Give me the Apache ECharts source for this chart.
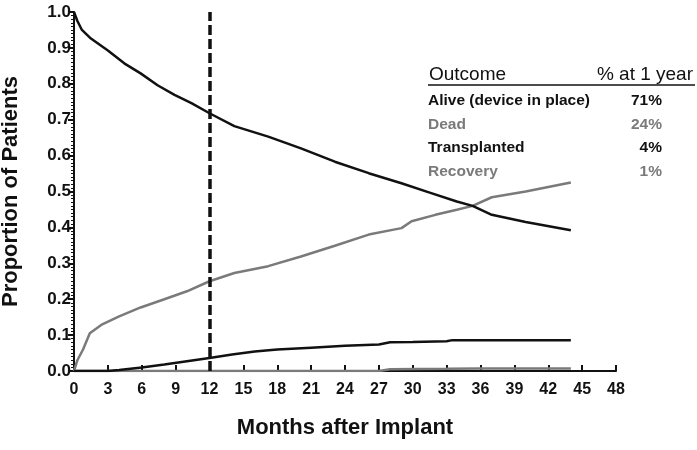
<!DOCTYPE html>
<html><head><meta charset="utf-8">
<script src="https://cdn.jsdelivr.net/npm/echarts@6/dist/echarts.min.js"></script>
<style>html,body{margin:0;padding:0;background:#fff}#c{width:697px;height:450px}</style>
</head><body><div id="c"></div>
<script>
const aliveMonths = [0,0.3,0.7,1.5,3,4.45,5.9,7.4,8.9,10.4,12,14.2,17.2,20.1,23.1,26.1,29,31.5,33.9,35.3,37,40,44];
const aliveVals   = [1.0,0.975,0.95,0.926,0.893,0.857,0.829,0.796,0.769,0.746,0.718,0.682,0.653,0.62,0.583,0.551,0.523,0.497,0.472,0.46,0.435,0.415,0.392];
const deadMonths  = [0,0.3,0.8,1.4,2.5,4,5.9,8,10,12,14.2,17.2,20.1,23.1,26.1,29,29.9,32,33.9,35.3,37,40,44];
const deadVals    = [0,0.03,0.06,0.105,0.13,0.152,0.177,0.2,0.222,0.25,0.273,0.292,0.319,0.349,0.38,0.398,0.417,0.435,0.449,0.46,0.484,0.5,0.525];
const txMonths    = [0,3,4,6,8,10,12,14,16,18,21,24,27,28,30,33,33.5,36,40,44];
const txVals      = [0,0,0.003,0.01,0.018,0.027,0.036,0.046,0.054,0.06,0.065,0.07,0.074,0.08,0.081,0.083,0.086,0.086,0.086,0.086];
const recMonths   = [0,27,28,33,36,44];
const recVals     = [0,0,0.005,0.006,0.007,0.007];
const outcomes    = ['Alive (device in place)','Dead','Transplanted','Recovery'];
const pctAtYear   = ['71%','24%','4%','1%'];
const xTicks = {min:0,max:48,interval:3};
const yTicks = {min:0,max:1,interval:0.1};

const BLACK='#111', GRAY='#7a7a7a';
const zip=(a,b)=>a.map((v,i)=>[v,b[i]]);
const chart=echarts.init(document.getElementById('c'));
const font='Liberation Sans, Arial, Helvetica, sans-serif';
const rowColors=[BLACK,GRAY,BLACK,GRAY];
const graphics=[
 {type:'text',left:429,top:65,style:{text:'Outcome',font:'19px '+font,fill:BLACK}},
 {type:'text',right:4,top:65,style:{text:'% at 1 year',font:'19px '+font,fill:BLACK}},
 {type:'line',shape:{x1:428,y1:85,x2:695,y2:85},style:{stroke:BLACK,lineWidth:1.5}}
];
outcomes.forEach((o,i)=>{
 graphics.push({type:'text',left:428,top:93+i*23.5,style:{text:o,font:'bold 15.5px '+font,fill:rowColors[i]}});
 graphics.push({type:'text',right:35,top:93+i*23.5,style:{text:pctAtYear[i],font:'bold 15.5px '+font,fill:rowColors[i],align:'right'}});
});
chart.setOption({
 animation:false,
 grid:{left:74,right:81,top:12,bottom:79,containLabel:false,outerBoundsMode:'none'},
 xAxis:{type:'value',min:xTicks.min,max:xTicks.max,interval:xTicks.interval,
  name:'Months after Implant',nameLocation:'middle',nameGap:46,
  nameTextStyle:{fontFamily:font,fontWeight:'bold',fontSize:22,color:BLACK},
  axisLine:{lineStyle:{color:BLACK,width:2}},
  axisTick:{inside:true,length:6,lineStyle:{color:BLACK,width:2}},
  axisLabel:{fontFamily:font,fontWeight:'bold',fontSize:16,color:BLACK,margin:11},
  splitLine:{show:false}},
 yAxis:{type:'value',min:yTicks.min,max:yTicks.max,interval:yTicks.interval,
  name:'Proportion of Patients',nameLocation:'middle',nameGap:52,
  nameTextStyle:{fontFamily:font,fontWeight:'bold',fontSize:22,color:BLACK},
  axisLine:{show:true,lineStyle:{color:BLACK,width:2}},
  axisTick:{show:true,length:6,lineStyle:{color:BLACK,width:2}},
  minorTick:{show:true,splitNumber:10,length:3,lineStyle:{color:BLACK,width:1}},
  axisLabel:{fontFamily:font,fontWeight:'bold',fontSize:17,color:BLACK,margin:3,formatter:v=>v.toFixed(1)},
  splitLine:{show:false}},
 graphic:graphics,
 series:[
  {name:'Recovery',type:'line',data:zip(recMonths,recVals),showSymbol:false,lineStyle:{color:GRAY,width:2.5},z:3},
  {name:'Transplanted',type:'line',data:zip(txMonths,txVals),showSymbol:false,lineStyle:{color:BLACK,width:2.5},z:4},
  {name:'Dead',type:'line',data:zip(deadMonths,deadVals),showSymbol:false,lineStyle:{color:GRAY,width:2.5},z:3},
  {name:'Alive',type:'line',data:zip(aliveMonths,aliveVals),showSymbol:false,lineStyle:{color:BLACK,width:2.5},z:4,
   markLine:{silent:true,symbol:'none',label:{show:false},lineStyle:{color:BLACK,width:3.5,type:[10,4]},data:[{xAxis:12}]}}
 ]
});
</script></body></html>
